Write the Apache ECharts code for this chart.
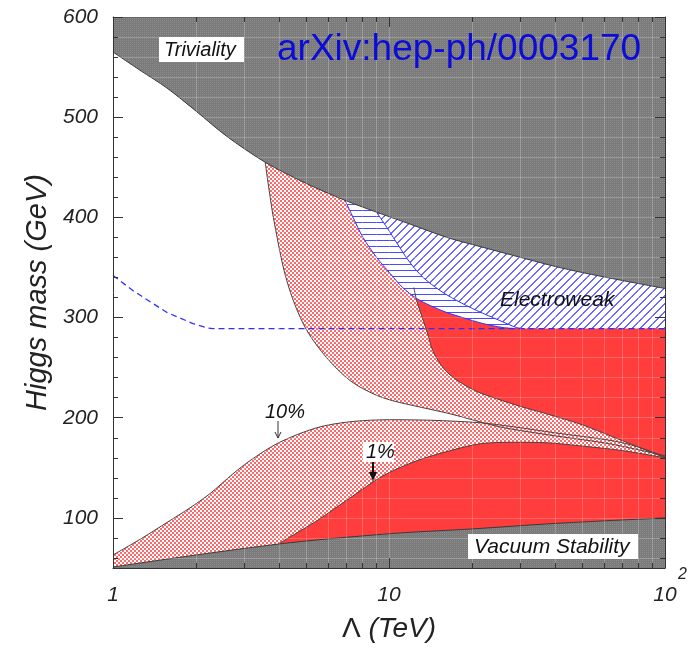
<!DOCTYPE html>
<html><head><meta charset="utf-8">
<script src="https://cdn.jsdelivr.net/npm/echarts@6/dist/echarts.min.js"></script>
<style>html,body{margin:0;padding:0;background:#fff}#c{width:697px;height:650px}</style>
</head><body><div id="c"></div>
<script>
// ---------- tick values ----------
const xMajorTicks = [1, 10, 100];
const xMinorTicks = [2,3,4,5,6,7,8,9,20,30,40,50,60,70,80,90];
const yMajorTicks = [100,200,300,400,500,600];
const yMinorTicks = [60,80,120,140,160,180,220,240,260,280,320,340,360,380,420,440,460,480,520,540,560,580];

// ---------- curves: Lambda (TeV) / Higgs mass (GeV) ----------
const trivLambda = [1, 1.25, 1.57, 2, 2.58, 3.56, 5, 6.93, 9.27, 12, 16.2, 20, 28.2, 40, 50, 70, 100];
const trivMass   = [565, 547, 529, 506, 481, 455, 434, 417, 404, 393, 380, 373, 362, 351, 345, 337, 329];

const vacLambda = [1, 2, 4, 6, 11, 20, 40, 100];
const vacMass   = [51, 63, 74, 79, 85, 89, 94.5, 100];

const tenLowLambda = [1, 1.26, 1.58, 1.9, 2.24, 2.72, 3.13, 3.98, 5.47, 7.23, 10, 14.1, 21.4, 28.2, 39.8, 64.6, 79.4, 100];
const tenLowMass   = [63, 79, 96, 110, 124, 144, 157, 175, 190, 196, 198, 197.5, 195, 191, 185, 177, 171, 161];

const tenUpLambda = [3.56, 3.63, 3.72, 3.81, 4.14, 4.5, 5.04, 5.94, 7.23, 8.75, 10.3, 16.6, 25.1, 39.8, 63, 100];
const tenUpMass   = [455, 438, 418, 400, 350, 317, 287, 260, 237, 224, 217, 204, 191, 182, 174, 162];

const oneLowLambda = [3.98, 4.14, 5.47, 7.23, 9.51, 12.6, 16.6, 21.4, 28.2, 37.2, 49, 70.8, 100];
const oneLowMass   = [74, 77, 97, 120, 142, 157, 167, 174, 175.5, 175, 172, 167, 160];

const oneUpLambda = [12.3, 12.6, 13.2, 13.7, 14.4, 15.5, 16.6, 18.2, 20.9, 24.5, 30.2, 37.2, 50.1, 64.6, 79.4, 100];
const oneUpMass   = [330, 317, 300, 287, 267, 252, 243, 235, 226, 219, 211, 204, 193, 181, 171, 160];

const ewLambda = [1, 1.18, 1.57, 1.95, 2.2, 2.3, 100];
const ewMass   = [342, 327, 305, 294, 289.5, 289, 289];

const bandLLambda = [6.93, 7.41, 8.05, 9.02, 10.1, 11.2, 12.6, 14.1, 16.2, 18.5, 21.9, 25.9, 28.8];
const bandLMass   = [417, 400, 380, 360, 344, 330, 319, 312, 305, 300, 294, 290, 289];

const bandRLambda = [9.02, 9.82, 10.7, 11.9, 13.3, 15.3, 17.6, 20.8, 25.2, 29, 31];
const bandRMass   = [405, 390, 374, 355, 340, 327, 317, 307, 297, 290, 289];
const ewFlatLambda = [100];
const ewFlatMass = [289];

const zip = (a, b) => a.map((v, i) => [v, b[i]]);

// ---------- fill patterns ----------
function pattern(w, h, draw) {
  const c = document.createElement('canvas'); c.width = w; c.height = h;
  const g = c.getContext('2d'); draw(g); return { image: c, repeat: 'repeat' };
}
const grayFill = pattern(2, 2, g => { g.fillStyle = '#787878'; g.fillRect(0,0,2,2); g.fillStyle = '#8e8e8e'; g.fillRect(0,0,1,1); g.fillStyle='#7d7d7d'; g.fillRect(1,1,1,1);});
const crossFill = pattern(4, 4, g => { g.fillStyle = '#fff'; g.fillRect(0,0,4,4); g.fillStyle = '#ff6868';
  g.fillRect(0, 0, 2, 2); g.fillRect(2, 2, 2, 2); });
const redFill = '#ff3d3d';
const diagFill = pattern(8, 8, g => { g.fillStyle = '#fff'; g.fillRect(0,0,8,8); g.fillStyle = '#6a6aff';
  for (let i = 0; i < 8; i++) { g.fillRect(i, 7 - i, 1, 1); g.fillRect(i, (8 - i) % 8, 1, 1); } });
const horizFill = pattern(4, 6, g => { g.fillStyle = '#fff'; g.fillRect(0,0,4,6); g.fillStyle = '#4a4aff'; g.fillRect(0,0,4,1); });

const FONT = '"Liberation Sans", Arial, Helvetica, sans-serif';
const gridColor = 'rgba(255,255,255,0.22)';

function fill(name, data, color, origin) {
  return { type: 'line', name, data, xAxisIndex: 0, yAxisIndex: 0, symbol: 'none', smooth: 0.3,
    lineStyle: { width: 0 }, areaStyle: { color, origin, opacity: 1 }, silent: true, animation: false };
}
function curve(name, data, color, width, type, smooth) {
  return { type: 'line', name, data, xAxisIndex: 0, yAxisIndex: 0, symbol: 'none', smooth: smooth === false ? false : 0.3,
    lineStyle: { color, width, type: type || 'solid' }, silent: true, animation: false };
}
function grayArea(name, data, origin) {
  const s = fill(name, data, grayFill, origin);
  s.lineStyle = { color: '#3a3a3a', width: 1 };
  return s;
}

const xAxisBase = { type: 'log', logBase: 10, min: 1, max: 100, z: 10 };
const yAxisBase = { type: 'value', min: 50, max: 600, z: 10 };
const tickStyle = { color: '#333', width: 1 };

const chart = echarts.init(document.getElementById('c'), null, { renderer: 'canvas' });
chart.setOption({
  animation: false,
  backgroundColor: '#fff',
  grid: { left: 113, right: 32, top: 17, bottom: 82, containLabel: false },
  xAxis: [
    Object.assign({}, xAxisBase, { position: 'bottom',
      axisLine: { show: true, onZero: false, lineStyle: { color: '#333', width: 1 } },
      axisTick: { show: true, inside: true, length: 10, customValues: xMajorTicks, lineStyle: tickStyle },
      axisLabel: { show: true, customValues: xMajorTicks, margin: 17, fontSize: 21, fontStyle: 'italic', fontFamily: FONT, color: '#222',
        formatter: v => String(Math.round(v >= 99 ? 10 : v)) },
      splitLine: { show: true, lineStyle: { color: gridColor, width: 1 } },
      name: '{l|Λ }{i|(TeV)}', nameLocation: 'middle', nameGap: 47,
      nameTextStyle: { rich: { l: { fontSize: 28, fontFamily: FONT, color: '#222' }, i: { fontSize: 28, fontStyle: 'italic', fontFamily: FONT, color: '#222' } } } }),
    Object.assign({}, xAxisBase, { position: 'bottom',
      axisLine: { show: false }, axisLabel: { show: false },
      axisTick: { show: true, inside: true, length: 5, customValues: xMinorTicks, lineStyle: tickStyle },
      splitLine: { show: true, lineStyle: { color: gridColor, width: 1 } } }),
    Object.assign({}, xAxisBase, { position: 'top',
      axisLine: { show: true, onZero: false, lineStyle: { color: '#666', width: 1 } }, axisLabel: { show: false },
      axisTick: { show: true, inside: true, length: 10, customValues: xMajorTicks, lineStyle: tickStyle }, splitLine: { show: false } }),
    Object.assign({}, xAxisBase, { position: 'top',
      axisLine: { show: false }, axisLabel: { show: false },
      axisTick: { show: true, inside: true, length: 5, customValues: xMinorTicks, lineStyle: tickStyle }, splitLine: { show: false } })
  ],
  yAxis: [
    Object.assign({}, yAxisBase, { position: 'left',
      axisLine: { show: true, onZero: false, lineStyle: { color: '#333', width: 1 } },
      axisTick: { show: true, inside: true, length: 10, customValues: yMajorTicks, lineStyle: tickStyle },
      axisLabel: { show: true, customValues: yMajorTicks, margin: 15, fontSize: 21, fontStyle: 'italic', fontFamily: FONT, color: '#222' },
      splitLine: { show: true, lineStyle: { color: gridColor, width: 1 } },
      name: 'Higgs mass (GeV)', nameLocation: 'middle', nameGap: 60,
      nameTextStyle: { fontSize: 29, fontStyle: 'italic', fontFamily: FONT, color: '#222' } }),
    Object.assign({}, yAxisBase, { position: 'left',
      axisLine: { show: false }, axisLabel: { show: false },
      axisTick: { show: true, inside: true, length: 5, customValues: yMinorTicks, lineStyle: tickStyle },
      splitLine: { show: true, lineStyle: { color: gridColor, width: 1 } } }),
    Object.assign({}, yAxisBase, { position: 'right',
      axisLine: { show: true, onZero: false, lineStyle: { color: '#333', width: 1 } }, axisLabel: { show: false },
      axisTick: { show: true, inside: true, length: 10, customValues: yMajorTicks, lineStyle: tickStyle }, splitLine: { show: false } }),
    Object.assign({}, yAxisBase, { position: 'right',
      axisLine: { show: false }, axisLabel: { show: false },
      axisTick: { show: true, inside: true, length: 5, customValues: yMinorTicks, lineStyle: tickStyle }, splitLine: { show: false } })
  ],
  series: [
    fill('10% upper region', zip(tenUpLambda, tenUpMass), crossFill, 'end'),
    fill('10% lower region', zip(tenLowLambda, tenLowMass), crossFill, 'start'),
    fill('1% lower region', zip(oneLowLambda, oneLowMass), redFill, 'start'),
    fill('1% upper region', zip(oneUpLambda, oneUpMass), redFill, 'end'),
    curve('10% upper', zip(tenUpLambda, tenUpMass), '#444', 1),
    curve('10% lower', zip(tenLowLambda, tenLowMass), '#444', 1),
    curve('1% lower', zip(oneLowLambda, oneLowMass), '#444', 1),
    curve('1% upper', zip(oneUpLambda, oneUpMass), '#444', 1),
    (function () { const s = fill('EW band', zip(bandLLambda, bandLMass), horizFill, 'end'); s.lineStyle = { color: '#3030ff', width: 1 }; return s; })(),
    fill('EW excluded', zip(bandRLambda.concat(ewFlatLambda), bandRMass.concat(ewFlatMass)), diagFill, 'end'),
    grayArea('Triviality', zip(trivLambda, trivMass), 'end'),
    grayArea('Vacuum Stability', zip(vacLambda, vacMass), 'start'),
    curve('EW bound', zip(ewLambda, ewMass), '#2f2fff', 1.3, [6, 4], false),
    curve('EW band edge', zip(bandRLambda, bandRMass), '#3030ff', 1)
  ],
  graphic: [
    { type: 'rect', shape: { x: 159, y: 37, width: 85, height: 25 }, style: { fill: '#fff' }, z: 100 },
    { type: 'text', x: 164, y: 50, z: 101, style: { text: 'Triviality', fontSize: 20, fontStyle: 'italic', fontFamily: FONT, fill: '#111', verticalAlign: 'middle' } },
    { type: 'text', x: 277, y: 50, z: 101, style: { text: 'arXiv:hep-ph/0003170', fontSize: 37, fontFamily: FONT, fill: '#0c0cd8', verticalAlign: 'middle' } },
    { type: 'text', x: 500, y: 300, z: 101, style: { text: 'Electroweak', fontSize: 21, fontStyle: 'italic', fontFamily: FONT, fill: '#111', verticalAlign: 'middle' } },
    { type: 'rect', shape: { x: 468, y: 534, width: 170, height: 25 }, style: { fill: '#fff' }, z: 100 },
    { type: 'text', x: 474, y: 547, z: 101, style: { text: 'Vacuum Stability', fontSize: 21, fontStyle: 'italic', fontFamily: FONT, fill: '#111', verticalAlign: 'middle' } },
    { type: 'text', x: 265, y: 412, z: 101, style: { text: '10%', fontSize: 20, fontStyle: 'italic', fontFamily: FONT, fill: '#111', verticalAlign: 'middle' } },
    { type: 'polyline', z: 101, shape: { points: [[278, 421], [278, 438]] }, style: { stroke: '#333', lineWidth: 1 } },
    { type: 'polyline', z: 101, shape: { points: [[275, 432], [278, 438], [281, 432]] }, style: { stroke: '#333', lineWidth: 1, fill: null } },
    { type: 'rect', shape: { x: 363, y: 442, width: 31, height: 20 }, style: { fill: '#fff' }, z: 100 },
    { type: 'text', x: 366, y: 452, z: 101, style: { text: '1%', fontSize: 20, fontStyle: 'italic', fontFamily: FONT, fill: '#111', verticalAlign: 'middle' } },
    { type: 'polyline', z: 101, shape: { points: [[373, 462], [373, 474]] }, style: { stroke: '#111', lineWidth: 2 } },
    { type: 'polygon', z: 101, shape: { points: [[369, 472], [377, 472], [373, 481]] }, style: { fill: '#111' } },
    { type: 'text', x: 678, y: 575, z: 101, style: { text: '2', fontSize: 16, fontStyle: 'italic', fontFamily: FONT, fill: '#222', verticalAlign: 'middle' } }
  ]
});
</script>
</body></html>
